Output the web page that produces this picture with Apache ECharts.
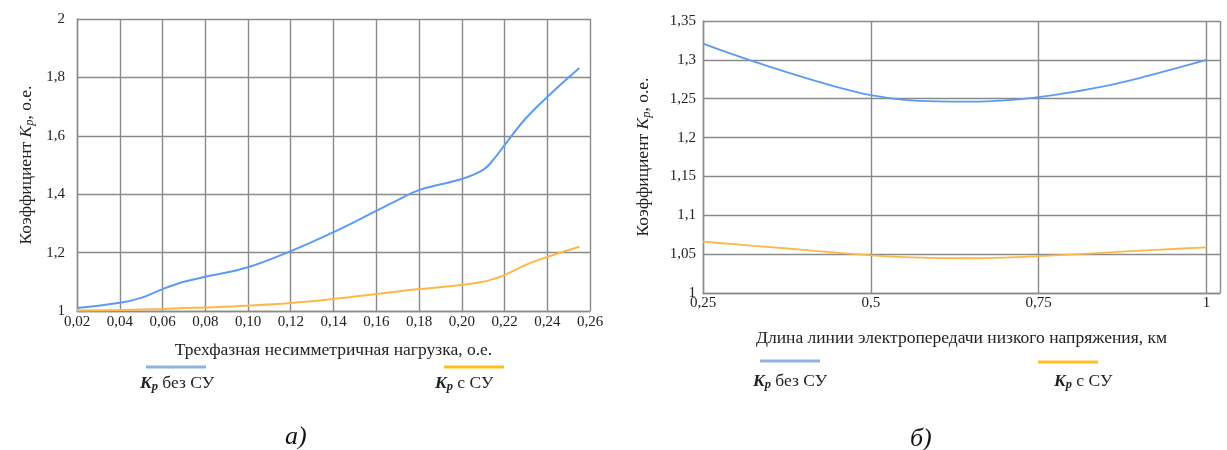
<!DOCTYPE html>
<html>
<head>
<meta charset="utf-8">
<script src="https://cdn.jsdelivr.net/npm/echarts@6/dist/echarts.min.js"></script>
<style>html,body{margin:0;padding:0;background:#fff;}#c{width:1227px;height:450px;}</style>
</head>
<body>
<div id="c"></div>
<script>
// Chart a): three-phase unbalanced load
var loadX = [0.02, 0.04, 0.05, 0.06, 0.07, 0.08, 0.10, 0.12, 0.14, 0.16, 0.17, 0.18, 0.20, 0.21, 0.215, 0.22, 0.23, 0.24, 0.255];
var kpWithoutA = [1.010, 1.028, 1.045, 1.075, 1.100, 1.117, 1.150, 1.205, 1.270, 1.343, 1.380, 1.414, 1.452, 1.483, 1.520, 1.568, 1.660, 1.733, 1.832];
var kpWithA    = [1.002, 1.003, 1.005, 1.007, 1.010, 1.012, 1.018, 1.027, 1.041, 1.058, 1.067, 1.075, 1.089, 1.100, 1.110, 1.123, 1.158, 1.185, 1.220];

// Chart б): line length
var lengthX = [0.25, 0.30, 0.35, 0.40, 0.45, 0.50, 0.55, 0.60, 0.65, 0.70, 0.75, 0.80, 0.85, 0.90, 0.95, 1.0];
var kpWithoutB = [1.321, 1.3055, 1.291, 1.2775, 1.265, 1.2545, 1.2485, 1.2465, 1.2462, 1.2478, 1.252, 1.2585, 1.2665, 1.2765, 1.288, 1.300];
var kpWithB    = [1.066, 1.0625, 1.059, 1.0555, 1.0518, 1.0485, 1.0462, 1.045, 1.0447, 1.0455, 1.0474, 1.0496, 1.052, 1.0544, 1.0566, 1.0588];

var seriesNames = ['без СУ', 'с СУ'];
var titlesY = 'Коэффициент {i|K}{s|p}, о.е.';
var titleXA = 'Трехфазная несимметричная нагрузка, о.е.';
var titleXB = 'Длина линии электропередачи низкого напряжения, км';

function pairs(xs, ys) { return xs.map(function (x, i) { return [x, ys[i]]; }); }
function comma(v) { return String(Math.round(v * 100) / 100).replace('.', ','); }

var FONT = '"Liberation Serif", "DejaVu Serif", serif';
var BLUE = '#5b9cf2';
var ORANGE = '#fdb84c';
var GRIDC = '#8a8a8a';
var richName = {
  i: { fontFamily: FONT, fontStyle: 'italic', fontSize: 17.5, color: '#222' },
  s: { fontFamily: FONT, fontStyle: 'italic', fontSize: 12.5, color: '#222', padding: [6, 0, 0, 0] }
};

var chart = echarts.init(document.getElementById('c'));
var axisCommon = {
  axisLine: { show: true, lineStyle: { color: GRIDC, width: 1.4 } },
  axisTick: { show: false },
  splitLine: { show: true, lineStyle: { color: GRIDC, width: 1.4 } },
  axisLabel: { fontFamily: FONT, fontSize: 15, color: '#222' },
  nameTextStyle: { fontFamily: FONT, fontSize: 17.5, color: '#222', rich: richName }
};
function ax(extra) { return echarts.util.merge(echarts.util.clone(axisCommon), extra, true); }

function legendGraphic(x1, x2, tx, ly, ty, color, label) {
  return [
    { type: 'line', shape: { x1: x1, y1: ly, x2: x2, y2: ly }, style: { stroke: color, lineWidth: 3 } },
    { type: 'text', x: tx, y: ty, style: {
        text: '{i|K}{s|p}{n| ' + label + '}',
        rich: {
          i: { fontFamily: FONT, fontStyle: 'italic', fontWeight: 'bold', fontSize: 17.5, fill: '#222' },
          s: { fontFamily: FONT, fontStyle: 'italic', fontWeight: 'bold', fontSize: 12.5, fill: '#222', padding: [7, 0, 0, 0] },
          n: { fontFamily: FONT, fontSize: 17.5, fill: '#222' }
        }, verticalAlign: 'middle' } }
  ];
}

var option = {
  animation: false,
  backgroundColor: '#fff',
  grid: [
    { left: 77, top: 19, width: 513, height: 292 },
    { left: 703, top: 21, width: 517, height: 272 }
  ],
  xAxis: [
    ax({ gridIndex: 0, type: 'value', min: 0.02, max: 0.26, interval: 0.02,
      axisLabel: { formatter: function (v) { return v.toFixed(2).replace('.', ','); }, margin: 4 },
      name: titleXA, nameLocation: 'middle', nameGap: 30 }),
    ax({ gridIndex: 1, type: 'value', min: 0.25, max: 1.02, interval: 0.25,
      axisLabel: { formatter: function (v) { var k = v / 0.25; return Math.abs(k - Math.round(k)) > 1e-6 ? '' : comma(v); }, margin: 3, showMaxLabel: true },
      name: titleXB, nameLocation: 'middle', nameGap: 36 })
  ],
  yAxis: [
    ax({ gridIndex: 0, type: 'value', min: 1, max: 2, interval: 0.2,
      axisLabel: { formatter: comma, margin: 12 },
      name: titlesY, nameLocation: 'middle', nameGap: 41 }),
    ax({ gridIndex: 1, type: 'value', min: 1, max: 1.35, interval: 0.05,
      axisLabel: { formatter: comma, margin: 7 },
      name: titlesY, nameLocation: 'middle', nameGap: 50 })
  ],
  series: [
    { name: seriesNames[0] + ' a', type: 'line', xAxisIndex: 0, yAxisIndex: 0, data: pairs(loadX, kpWithoutA), smooth: 0.4, showSymbol: false, lineStyle: { color: BLUE, width: 2 } },
    { name: seriesNames[1] + ' a', type: 'line', xAxisIndex: 0, yAxisIndex: 0, data: pairs(loadX, kpWithA), smooth: 0.4, showSymbol: false, lineStyle: { color: ORANGE, width: 2 } },
    { name: seriesNames[0] + ' b', type: 'line', xAxisIndex: 1, yAxisIndex: 1, data: pairs(lengthX, kpWithoutB), smooth: 0.3, showSymbol: false, lineStyle: { color: BLUE, width: 1.8 } },
    { name: seriesNames[1] + ' b', type: 'line', xAxisIndex: 1, yAxisIndex: 1, data: pairs(lengthX, kpWithB), smooth: 0.3, showSymbol: false, lineStyle: { color: ORANGE, width: 1.8 } }
  ],
  graphic: [].concat(
    legendGraphic(146, 206, 140, 367, 383, '#8fb2e0', seriesNames[0]),
    legendGraphic(444, 504, 435, 367, 383, '#fdbf1e', seriesNames[1]),
    legendGraphic(760, 820, 753, 361, 381, '#8fb2e0', seriesNames[0]),
    legendGraphic(1038, 1098, 1054, 362, 381, '#fdbf1e', seriesNames[1]),
    [
      { type: 'text', x: 285, y: 424, style: { text: 'а)', fontFamily: FONT, fontStyle: 'italic', fontSize: 26, fill: '#111' } },
      { type: 'text', x: 910, y: 426, style: { text: 'б)', fontFamily: FONT, fontStyle: 'italic', fontSize: 26, fill: '#111' } }
    ]
  )
};
chart.setOption(option);
</script>
</body>
</html>
